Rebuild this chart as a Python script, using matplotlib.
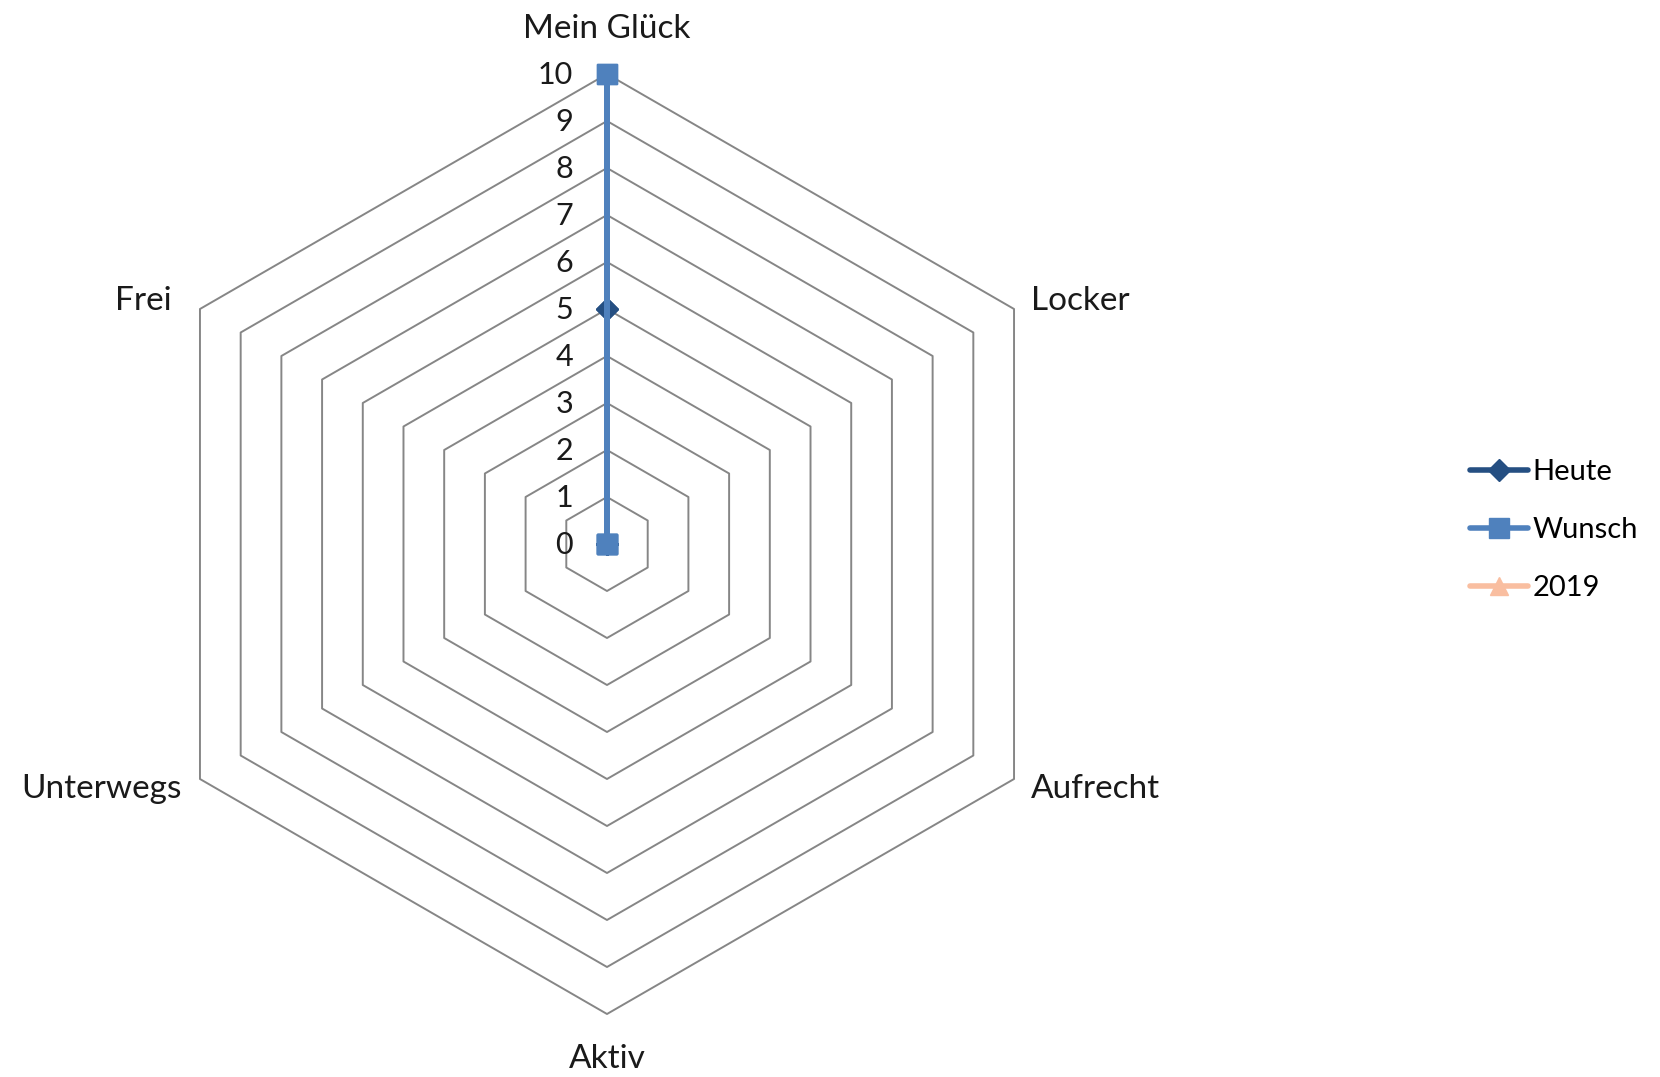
import numpy as np
import matplotlib
matplotlib.use("Agg")
import matplotlib.pyplot as plt

plt.rcParams['font.family'] = ['Lato', 'DejaVu Sans']

categories = ["Mein Glück", "Locker", "Aufrecht", "Aktiv", "Unterwegs", "Frei"]
heute = [5, 0, 0, 0, 0, 0]
wunsch = [10, 0, 0, 0, 0, 0]
y2019 = [np.nan] * 6
ticks = list(range(0, 11))
series_names = ["Heute", "Wunsch", "2019"]

W, H = 1660, 1077
fig = plt.figure(figsize=(W / 100, H / 100), dpi=100)
ax = fig.add_axes([0, 0, 1, 1])
cx, cy, R = 607, 544, 470
ppu = R / 10.0
ax.set_xlim(-cx / ppu, (W - cx) / ppu)
ax.set_ylim(-(H - cy) / ppu, cy / ppu)
ax.set_aspect('equal')
ax.axis('off')

n = len(categories)
ang = np.arange(n) * 2 * np.pi / n


def xy(vals):
    v = np.asarray(vals, dtype=float)
    return v * np.sin(ang), v * np.cos(ang)


def closed(a):
    return np.append(a, a[0])


grid_col = '#868686'
for t in ticks[1:]:
    gx, gy = xy([t] * n)
    ax.plot(closed(gx), closed(gy), color=grid_col, lw=1.4, zorder=1)

for t in ticks:
    ax.text(-0.72, t - 0.03, str(t), ha='right', va='center', fontsize=22, color='#1a1a1a')

# category labels
offs = {
    0: (0, 45, 'center', 'center'),
    1: (17, 8, 'left', 'center'),
    2: (17, -10, 'left', 'center'),
    3: (0, -45, 'center', 'center'),
    4: (-18, -10, 'right', 'center'),
    5: (-28, 8, 'right', 'center'),
}
vx, vy = xy([10] * n)
for i, c in enumerate(categories):
    dx, dy, ha, va = offs[i]
    ax.text(vx[i] + dx / ppu, vy[i] + dy / ppu, c, ha=ha, va=va, fontsize=24, color='#1a1a1a')

colors = ['#254F82', '#4F81BD', '#F9BEA0']
markers = ['D', 's', '^']
msizes = [11, 14, 13]
for k, (vals, name) in enumerate(zip([heute, wunsch, y2019], series_names)):
    sx, sy = xy(vals)
    ax.plot(closed(sx), closed(sy), color=colors[k], lw=4, marker=markers[k],
            markersize=msizes[k], markeredgecolor=colors[k], zorder=3 + k,
            label=name, solid_capstyle='round')

leg = ax.legend(loc='upper left', bbox_to_anchor=(1470 / W, 1 - 459 / H),
                frameon=False, fontsize=21, handlelength=2.0, handletextpad=0.15,
                labelspacing=1.1, borderpad=0, borderaxespad=0)

fig.savefig('out.png', dpi=100)
